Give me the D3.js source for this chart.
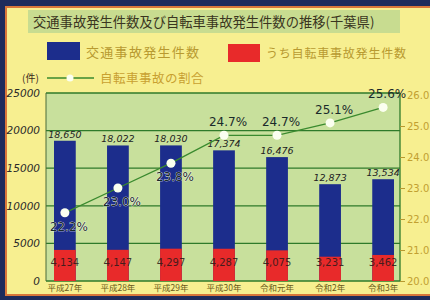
<!DOCTYPE html>
<html><head><meta charset="utf-8">
<script src="https://cdn.jsdelivr.net/npm/d3@7"></script>
<style>html,body{margin:0;padding:0;background:#1e2b5c;}svg{display:block;}</style>
</head><body>
<script>
const years = ["平成27年","平成28年","平成29年","平成30年","令和元年","令和2年","令和3年"];
const totalAccidents = [18650, 18022, 18030, 17374, 16476, 12873, 13534];
const bicycleAccidents = [4134, 4147, 4297, 4287, 4075, 3231, 3462];
const bicycleShare = [22.2, 23.0, 23.8, 24.7, 24.7, 25.1, 25.6];
const leftTicks = [0, 5000, 10000, 15000, 20000, 25000];
const rightTicks = [20, 21, 22, 23, 24, 25, 26];
const title = "交通事故発生件数及び自転車事故発生件数の推移(千葉県)";

const W = 430, H = 300;
const svg = d3.select("body").append("svg").attr("width", W).attr("height", H);
const font = "'Noto Sans CJK JP', sans-serif";

// paper / frame
svg.append("rect").attr("width", W).attr("height", H).attr("fill", "#1e2b5c");
svg.append("rect").attr("x", 5).attr("y", 6).attr("width", W - 5).attr("height", 290).attr("fill", "#d9763a");
svg.append("rect").attr("x", 7).attr("y", 8).attr("width", W - 7).attr("height", 286).attr("fill", "#f7ef90");

// title
svg.append("rect").attr("x", 28).attr("y", 10).attr("width", 372).attr("height", 23).attr("fill", "#c8dc90");
svg.append("text").attr("x", 33).attr("y", 27).attr("font-family", font).attr("font-size", 13.3)
  .attr("fill", "#3a3520").text(title);

const plot = {l: 46, r: 400, t: 93, b: 281};
const x = d3.scaleBand().domain(years).range([54, 394]).paddingInner(0.59).paddingOuter(0);
const y = d3.scaleLinear().domain([0, 25000]).range([plot.b, plot.t]);
const y2 = d3.scaleLinear().domain([20, 26]).range([plot.b, plot.t + 2]);

// plot background
svg.append("rect").attr("x", plot.l).attr("y", plot.t).attr("width", plot.r - plot.l).attr("height", plot.b - plot.t)
  .attr("fill", "#c8e09c");
// gridlines
svg.append("g").selectAll("line").data(leftTicks).join("line")
  .attr("x1", plot.l).attr("x2", plot.r).attr("y1", d => y(d)).attr("y2", d => y(d))
  .attr("stroke", "#2f7a2a").attr("stroke-width", 1.3);
svg.append("line").attr("x1", plot.r).attr("x2", plot.r).attr("y1", plot.t).attr("y2", plot.b)
  .attr("stroke", "#2f7a2a").attr("stroke-width", 1.3);
svg.append("line").attr("x1", plot.l).attr("x2", plot.l).attr("y1", plot.t).attr("y2", plot.b)
  .attr("stroke", "#4a6a3a").attr("stroke-width", 1);

// left axis
const la = svg.append("g").attr("transform", `translate(${plot.l},0)`)
  .call(d3.axisLeft(y).tickValues(leftTicks).tickSize(0).tickPadding(6).tickFormat(d3.format("d")));
la.select(".domain").remove();
la.selectAll("text").attr("font-family", "'DejaVu Sans', sans-serif").attr("font-style", "italic")
  .attr("font-size", 10.5).attr("fill", "#2a2a2a");

// right axis
const ra = svg.append("g").attr("transform", `translate(${plot.r},0)`)
  .call(d3.axisRight(y2).tickValues(rightTicks).tickSize(5).tickPadding(2).tickFormat(d3.format(".1f")));
ra.select(".domain").remove();
ra.selectAll("line").attr("stroke", d => d === 26 ? "none" : "#b89a30");
ra.selectAll("text").attr("font-family", "'DejaVu Sans', sans-serif").attr("font-size", 10)
  .attr("fill", "#c2a030");

// bars
const g = svg.append("g");
g.selectAll("rect.tot").data(years).join("rect").attr("class", "tot")
  .attr("x", d => x(d)).attr("width", x.bandwidth())
  .attr("y", (d, i) => y(totalAccidents[i])).attr("height", (d, i) => y(0) - y(totalAccidents[i]))
  .attr("fill", "#1c2d8c");
g.selectAll("rect.bic").data(years).join("rect").attr("class", "bic")
  .attr("x", d => x(d)).attr("width", x.bandwidth())
  .attr("y", (d, i) => y(bicycleAccidents[i])).attr("height", (d, i) => y(0) - y(bicycleAccidents[i]))
  .attr("fill", "#e82a2a");

// value labels
g.selectAll("text.tot").data(years).join("text")
  .attr("x", d => x(d) + x.bandwidth() / 2).attr("y", (d, i) => y(totalAccidents[i]) - 3)
  .attr("text-anchor", "middle").attr("font-family", "'DejaVu Sans', sans-serif").attr("font-style", "italic")
  .attr("font-size", 9.5).attr("fill", "#222").text((d, i) => d3.format(",")(totalAccidents[i]));
g.selectAll("text.bic").data(years).join("text")
  .attr("x", d => x(d) + x.bandwidth() / 2).attr("y", (d, i) => y(0) - 15)
  .attr("text-anchor", "middle").attr("font-family", "'DejaVu Sans', sans-serif")
  .attr("font-size", 10).attr("fill", "#2a1a1a").attr("opacity", 0.85)
  .text((d, i) => d3.format(",")(bicycleAccidents[i]));

// line
const cx = d => x(d) + x.bandwidth() / 2;
const line = d3.line().x((d, i) => cx(years[i])).y(d => y2(d));
svg.append("path").datum(bicycleShare).attr("d", line).attr("fill", "none")
  .attr("stroke", "#3a8a2e").attr("stroke-width", 1.3);
svg.append("g").selectAll("circle").data(bicycleShare).join("circle")
  .attr("cx", (d, i) => cx(years[i])).attr("cy", d => y2(d)).attr("r", 4.5).attr("fill", "#fbfff0");
svg.append("g").selectAll("text").data(bicycleShare).join("text")
  .attr("x", (d, i) => cx(years[i]) + 4)
  .attr("y", (d, i) => i < 3 ? y2(d) + 18 : y2(d) - 9)
  .attr("text-anchor", "middle").attr("font-family", "'DejaVu Sans', sans-serif").attr("font-size", 12)
  .attr("fill", "#1a2a2a").attr("stroke", (d, i) => i < 3 ? "#ffffff" : "none").attr("stroke-width", 0.6)
  .attr("paint-order", "stroke")
  .text(d => d.toFixed(1) + "%");

// x labels
svg.append("g").selectAll("text").data(years).join("text")
  .attr("x", d => cx(d)).attr("y", 291).attr("text-anchor", "middle")
  .attr("font-family", font).attr("font-size", 8.5).attr("fill", "#6a5a18").text(d => d);

// legend
svg.append("rect").attr("x", 47).attr("y", 42).attr("width", 33).attr("height", 18).attr("fill", "#1c2d8c");
svg.append("text").attr("x", 86).attr("y", 57).attr("font-family", font).attr("font-size", 13)
  .attr("letter-spacing", 1.3).attr("fill", "#b89a30").text("交通事故発生件数");
svg.append("rect").attr("x", 228).attr("y", 44).attr("width", 32).attr("height", 18).attr("fill", "#e82a2a");
svg.append("text").attr("x", 266).attr("y", 58).attr("font-family", font).attr("font-size", 12)
  .attr("letter-spacing", 0.8).attr("fill", "#b89a30").text("うち自転車事故発生件数");
svg.append("line").attr("x1", 47).attr("x2", 94).attr("y1", 78).attr("y2", 78).attr("stroke", "#3a8a2e").attr("stroke-width", 1.6);
svg.append("circle").attr("cx", 70).attr("cy", 78).attr("r", 3.5).attr("fill", "#fbfff0");
svg.append("text").attr("x", 100).attr("y", 83).attr("font-family", font).attr("font-size", 12.5)
  .attr("letter-spacing", 0.5).attr("fill", "#c8a030").text("自転車事故の割合");
svg.append("text").attr("x", 22).attr("y", 82).attr("font-family", font).attr("font-size", 10)
  .attr("fill", "#3a2a1a").text("(件)");
</script>
</body></html>
